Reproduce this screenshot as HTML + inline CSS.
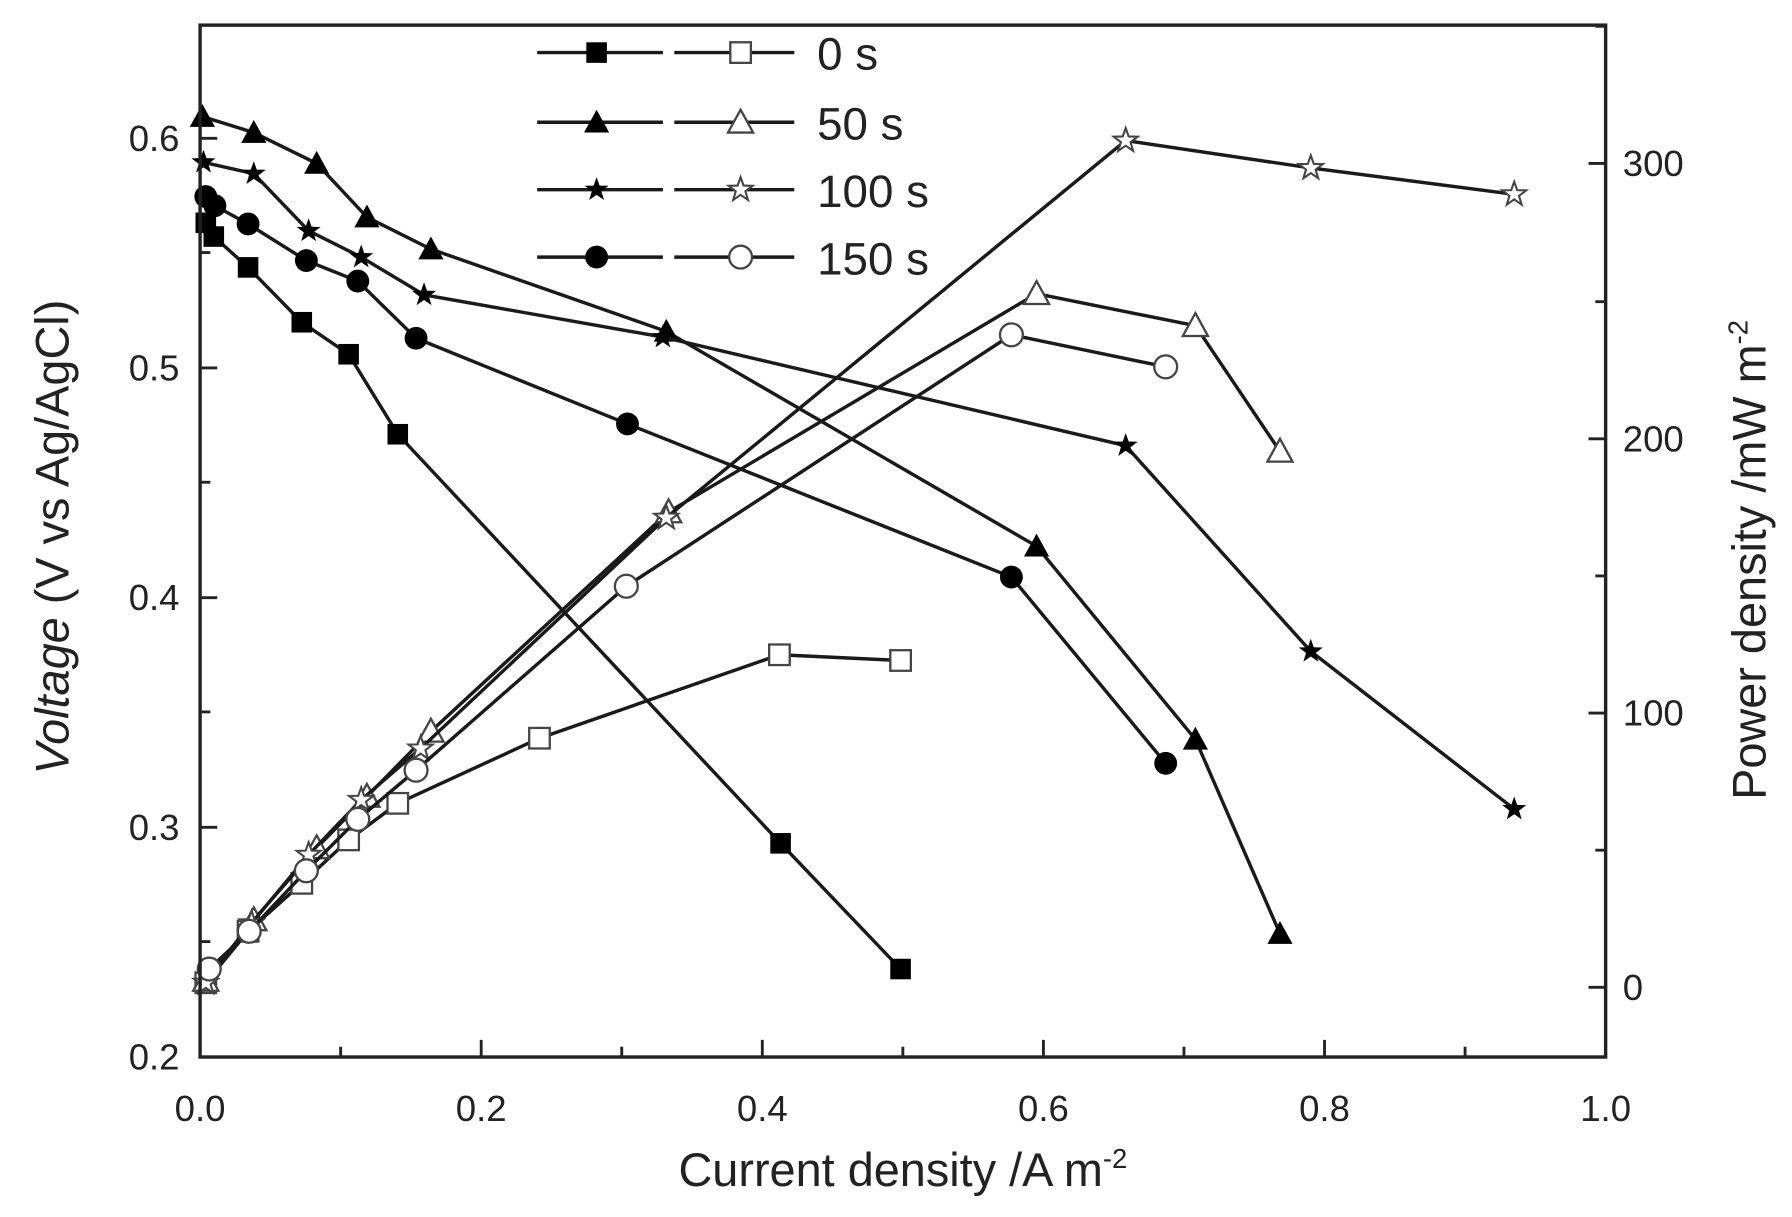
<!DOCTYPE html>
<html><head><meta charset="utf-8"><style>html,body{margin:0;padding:0;background:#fff}svg{display:block}</style></head><body>
<svg width="1792" height="1217" viewBox="0 0 1568 1065" xmlns="http://www.w3.org/2000/svg" font-family="'Liberation Sans',sans-serif">
<defs>
<marker id="fs" markerUnits="userSpaceOnUse" markerWidth="24" markerHeight="24" refX="12" refY="12" overflow="visible"><rect x="3" y="3" width="18" height="18" fill="#000"/></marker>
<marker id="os" markerUnits="userSpaceOnUse" markerWidth="24" markerHeight="24" refX="12" refY="12" overflow="visible"><rect x="3" y="3" width="18" height="18" fill="#fff" stroke="#444" stroke-width="2"/></marker>
<marker id="ft" markerUnits="userSpaceOnUse" markerWidth="24" markerHeight="24" refX="12" refY="12" overflow="visible"><polygon points="12,1 23,21 1,21" fill="#000"/></marker>
<marker id="ot" markerUnits="userSpaceOnUse" markerWidth="24" markerHeight="24" refX="12" refY="12" overflow="visible"><polygon points="12,1 23,21 1,21" fill="#fff" stroke="#444" stroke-width="2"/></marker>
<marker id="fst" markerUnits="userSpaceOnUse" markerWidth="24" markerHeight="24" refX="12" refY="12" overflow="visible"><polygon points="12,1 14.6,8.4 22.5,8.6 16.2,13.4 18.5,21 12,16.5 5.5,21 7.8,13.4 1.5,8.6 9.4,8.4" fill="#000"/></marker>
<marker id="ost" markerUnits="userSpaceOnUse" markerWidth="24" markerHeight="24" refX="12" refY="12" overflow="visible"><polygon points="12,1 14.6,8.4 22.5,8.6 16.2,13.4 18.5,21 12,16.5 5.5,21 7.8,13.4 1.5,8.6 9.4,8.4" fill="#fff" stroke="#444" stroke-width="1.8"/></marker>
<marker id="fc" markerUnits="userSpaceOnUse" markerWidth="24" markerHeight="24" refX="12" refY="12" overflow="visible"><circle cx="12" cy="12" r="10" fill="#000"/></marker>
<marker id="oc" markerUnits="userSpaceOnUse" markerWidth="24" markerHeight="24" refX="12" refY="12" overflow="visible"><circle cx="12" cy="12" r="10" fill="#fff" stroke="#444" stroke-width="2"/></marker>
</defs>
<g fill="none" stroke="#1a1a1a" stroke-width="3">
<polyline marker-start="url(#fs)" marker-mid="url(#fs)" marker-end="url(#fs)" points="180,195 187,207 217,234 264,282 305,310 348,380 683,738 788,848"/>
<polyline marker-start="url(#os)" marker-mid="url(#os)" marker-end="url(#os)" points="180,860 217,815 264,773 305,735 348,703 472,646 682,573 788,578"/>
<polyline marker-start="url(#ft)" marker-mid="url(#ft)" marker-end="url(#ft)" points="177,102 222,116 277,143 321,190 377,218 583,290 907,478 1046,647 1120,817"/>
<polyline marker-start="url(#ot)" marker-mid="url(#ot)" marker-end="url(#ot)" points="180,858 222,805 277,742 321,697 377,640 585,448 907,257 1046,285 1120,395"/>
<polyline marker-start="url(#fst)" marker-mid="url(#fst)" marker-end="url(#fst)" points="178,142 222,152 270,202 316,225 371,258 580,295 985,390 1147,570 1325,708"/>
<polyline marker-start="url(#ost)" marker-mid="url(#ost)" marker-end="url(#ost)" points="180,860 220,808 270,748 316,700 368,655 583,453 985,123 1147,147 1325,170"/>
<polyline marker-start="url(#fc)" marker-mid="url(#fc)" marker-end="url(#fc)" points="180,172 188,180 217,196 268,228 313,246 364,296 549,371 885,505 1020,668"/>
<polyline marker-start="url(#oc)" marker-mid="url(#oc)" marker-end="url(#oc)" points="183,848 218,815 268,762 313,717 364,674 548,513 885,293 1020,321"/>
<polyline marker-mid="url(#fs)" points="470,46 522,46 580,46"/><polyline marker-mid="url(#os)" points="590,46 648,46 695,46"/>
<polyline marker-mid="url(#ft)" points="470,107 522,107 580,107"/><polyline marker-mid="url(#ot)" points="590,107 648,107 695,107"/>
<polyline marker-mid="url(#fst)" points="470,166 522,166 580,166"/><polyline marker-mid="url(#ost)" points="590,166 648,166 695,166"/>
<polyline marker-mid="url(#fc)" points="470,225 522,225 580,225"/><polyline marker-mid="url(#oc)" points="590,225 648,225 695,225"/>
</g>
<g font-size="40" fill="#222"><text x="715" y="61">0 s</text><text x="715" y="122">50 s</text><text x="715" y="181">100 s</text><text x="715" y="240">150 s</text></g>
<rect x="175" y="22" width="1230" height="903" fill="none" stroke="#222" stroke-width="3"/>
<g stroke="#222" stroke-width="2.5">
<line x1="298" y1="925" x2="298" y2="916"/><line x1="421" y1="925" x2="421" y2="910"/><line x1="544" y1="925" x2="544" y2="916"/><line x1="667" y1="925" x2="667" y2="910"/><line x1="790" y1="925" x2="790" y2="916"/><line x1="913" y1="925" x2="913" y2="910"/><line x1="1036" y1="925" x2="1036" y2="916"/><line x1="1159" y1="925" x2="1159" y2="910"/><line x1="1282" y1="925" x2="1282" y2="916"/>
<line x1="175" y1="824" x2="184" y2="824"/><line x1="175" y1="724" x2="190" y2="724"/><line x1="175" y1="623" x2="184" y2="623"/><line x1="175" y1="523" x2="190" y2="523"/><line x1="175" y1="422" x2="184" y2="422"/><line x1="175" y1="322" x2="190" y2="322"/><line x1="175" y1="221" x2="184" y2="221"/><line x1="175" y1="121" x2="190" y2="121"/>
<line x1="1405" y1="864" x2="1390" y2="864"/><line x1="1405" y1="744" x2="1396" y2="744"/><line x1="1405" y1="624" x2="1390" y2="624"/><line x1="1405" y1="504" x2="1396" y2="504"/><line x1="1405" y1="384" x2="1390" y2="384"/><line x1="1405" y1="264" x2="1396" y2="264"/><line x1="1405" y1="143" x2="1390" y2="143"/><line x1="1405" y1="23" x2="1396" y2="23"/>
</g>
<g font-size="32" fill="#222" text-anchor="middle">
<text x="175" y="981">0.0</text><text x="421" y="981">0.2</text><text x="667" y="981">0.4</text><text x="913" y="981">0.6</text><text x="1159" y="981">0.8</text><text x="1405" y="981">1.0</text>
</g>
<g font-size="32" fill="#222" text-anchor="end">
<text x="157" y="936">0.2</text><text x="157" y="735">0.3</text><text x="157" y="534">0.4</text><text x="157" y="333">0.5</text><text x="157" y="132">0.6</text>
</g>
<g font-size="32" fill="#222">
<text x="1420" y="875">0</text><text x="1420" y="635">100</text><text x="1420" y="395">200</text><text x="1420" y="154">300</text>
</g>
<text x="790" y="1038" font-size="41" fill="#222" text-anchor="middle">Current density /A m<tspan font-size="24" dy="-16">-2</tspan></text>
<text transform="translate(60,470) rotate(-90)" font-size="41" fill="#222" text-anchor="middle"><tspan font-style="italic">Voltage</tspan> (V vs Ag/AgCl)</text>
<text transform="translate(1545,490) rotate(-90)" font-size="41" fill="#222" text-anchor="middle">Power density /mW m<tspan font-size="24" dy="-16">-2</tspan></text>
</svg>
</body></html>
